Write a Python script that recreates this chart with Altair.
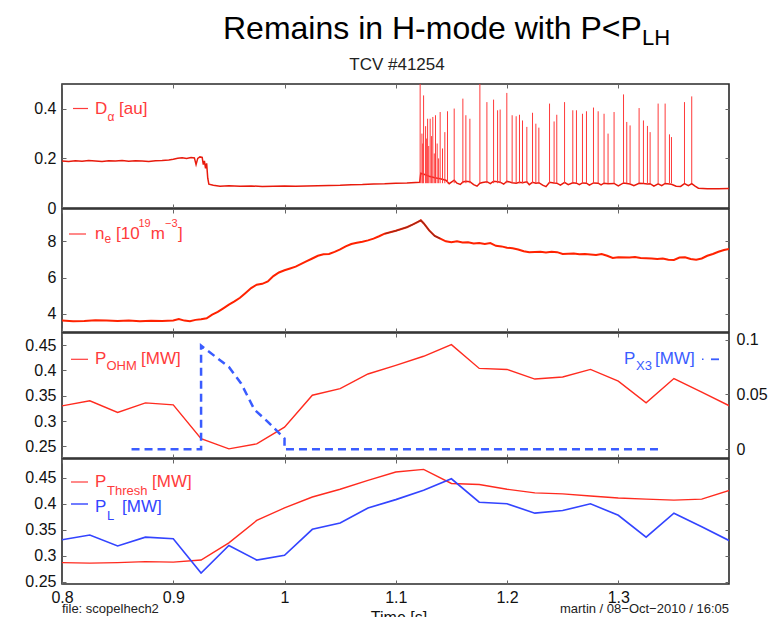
import altair as alt
import pandas as pd

FONT = "Liberation Sans"
PW = 667
H1, H2, H3, H4 = 124, 123, 125, 125
X_DOMAIN = [0.8, 1.3995]
X_TICKS = [0.8, 0.9, 1.0, 1.1, 1.2, 1.3]

RED = "#ff2b1f"
RED_TXT = "#ff3b3b"
BLUE = "#3344ff"
BLUE_DASH = "#3a5cff"

# ---------------- data ----------------
# D_alpha baseline trace [au]
da_t = [0.800, 0.806, 0.812, 0.818, 0.824, 0.830, 0.836, 0.842, 0.848, 0.854, 0.860, 0.866,
        0.872, 0.878, 0.884, 0.890, 0.896, 0.900, 0.904, 0.908, 0.912, 0.916, 0.919, 0.9205,
        0.922, 0.924, 0.926, 0.927, 0.928, 0.929, 0.930, 0.931, 0.932, 0.936, 0.942, 0.950,
        0.960, 0.970, 0.980, 0.990, 1.000, 1.010, 1.020, 1.030, 1.040, 1.050, 1.060, 1.070,
        1.080, 1.090, 1.100, 1.110, 1.1215, 1.1225, 1.126, 1.130, 1.135, 1.140, 1.145, 1.148,
        1.1525, 1.155, 1.158, 1.1603, 1.163, 1.1666, 1.170, 1.173, 1.1756, 1.178, 1.1819, 1.185,
        1.1879, 1.1915, 1.1938, 1.197, 1.1998, 1.2046, 1.2082, 1.2112, 1.2139, 1.2178, 1.220,
        1.2229, 1.2259, 1.2286, 1.232, 1.235, 1.2382, 1.2423, 1.2447, 1.248, 1.2517, 1.255,
        1.2591, 1.2624, 1.265, 1.2678, 1.2714, 1.274, 1.2777, 1.2819, 1.2845, 1.2872, 1.2908,
        1.2962, 1.300, 1.3047, 1.3076, 1.3106, 1.314, 1.3187, 1.3226, 1.3262, 1.3286, 1.332,
        1.3358, 1.339, 1.3421, 1.3460, 1.3478, 1.352, 1.356, 1.3595, 1.363, 1.3660, 1.369,
        1.372, 1.380, 1.390, 1.3995]
da_v = [0.190, 0.188, 0.191, 0.189, 0.192, 0.190, 0.188, 0.191, 0.190, 0.192, 0.189, 0.191,
        0.190, 0.188, 0.191, 0.192, 0.194, 0.197, 0.201, 0.203, 0.200, 0.204, 0.202, 0.175,
        0.200, 0.206, 0.204, 0.175, 0.190, 0.160, 0.180, 0.120, 0.096, 0.092, 0.088, 0.090,
        0.088, 0.089, 0.087, 0.088, 0.089, 0.088, 0.089, 0.090, 0.091, 0.092, 0.094, 0.095,
        0.097, 0.098, 0.100, 0.101, 0.104, 0.140, 0.135, 0.128, 0.122, 0.118, 0.112, 0.098,
        0.112, 0.100, 0.095, 0.105, 0.108, 0.106, 0.094, 0.088, 0.100, 0.103, 0.106, 0.098,
        0.108, 0.106, 0.104, 0.096, 0.108, 0.102, 0.100, 0.104, 0.102, 0.106, 0.094,
        0.104, 0.100, 0.102, 0.092, 0.086, 0.104, 0.101, 0.100, 0.092, 0.103, 0.094,
        0.102, 0.100, 0.094, 0.101, 0.100, 0.092, 0.101, 0.100, 0.093, 0.100, 0.098,
        0.099, 0.089, 0.101, 0.099, 0.097, 0.090, 0.100, 0.099, 0.097, 0.098, 0.088,
        0.097, 0.090, 0.099, 0.097, 0.096, 0.088, 0.087, 0.098, 0.090, 0.098, 0.088,
        0.080, 0.078, 0.078, 0.079]

# ELM spikes: time and peak of D_alpha
elm_t = [1.1219, 1.1235, 1.1242, 1.1250, 1.1268, 1.1275, 1.1286, 1.1296, 1.1309, 1.1322,
         1.1333, 1.1346, 1.1357, 1.1372, 1.1385, 1.1399, 1.1420, 1.1441, 1.1465, 1.1525,
         1.1603, 1.1630, 1.1666, 1.1756, 1.1819, 1.1879, 1.1915, 1.1938, 1.1998, 1.2046,
         1.2082, 1.2112, 1.2139, 1.2178, 1.2229, 1.2259, 1.2286, 1.2382, 1.2423, 1.2447,
         1.2517, 1.2591, 1.2624, 1.2678, 1.2714, 1.2777, 1.2819, 1.2872, 1.2908, 1.2962,
         1.3047, 1.3076, 1.3106, 1.3187, 1.3226, 1.3262, 1.3286, 1.3358, 1.3421, 1.3460,
         1.3478, 1.3595, 1.3660]
elm_peak = [0.56, 0.30, 0.26, 0.454, 0.33, 0.28, 0.360, 0.25, 0.360, 0.29,
            0.367, 0.22, 0.374, 0.26, 0.20, 0.387, 0.24, 0.306, 0.390, 0.401,
            0.441, 0.374, 0.360, 0.56, 0.427, 0.437, 0.394, 0.397, 0.464, 0.374,
            0.370, 0.376, 0.353, 0.327, 0.384, 0.340, 0.324, 0.421, 0.349, 0.376,
            0.427, 0.394, 0.394, 0.380, 0.390, 0.405, 0.390, 0.380, 0.300, 0.387,
            0.458, 0.347, 0.333, 0.403, 0.353, 0.331, 0.306, 0.421, 0.421, 0.297,
            0.286, 0.427, 0.450]

# electron density [1e19 m^-3]
ne_t = [0.800, 0.810, 0.820, 0.830, 0.840, 0.850, 0.860, 0.870, 0.880, 0.890, 0.900, 0.905,
        0.910, 0.915, 0.920, 0.925, 0.930, 0.935, 0.940, 0.945, 0.950, 0.955, 0.960, 0.965,
        0.970, 0.975, 0.980, 0.985, 0.990, 0.995, 1.000, 1.005, 1.010, 1.015, 1.020, 1.025,
        1.030, 1.035, 1.040, 1.045, 1.050, 1.055, 1.060, 1.065, 1.070, 1.075, 1.080, 1.085,
        1.090, 1.095, 1.100, 1.105, 1.110, 1.115, 1.120, 1.1225, 1.125, 1.130, 1.135, 1.140,
        1.145, 1.150, 1.155, 1.160, 1.165, 1.170, 1.175, 1.180, 1.185, 1.190, 1.195, 1.200,
        1.205, 1.210, 1.215, 1.220, 1.230, 1.235, 1.240, 1.245, 1.250, 1.260, 1.265, 1.270,
        1.280, 1.285, 1.290, 1.295, 1.300, 1.310, 1.315, 1.320, 1.330, 1.335, 1.340, 1.345,
        1.350, 1.355, 1.360, 1.365, 1.370, 1.375, 1.380, 1.385, 1.390, 1.395, 1.3995]
ne_v = [3.62, 3.58, 3.60, 3.64, 3.62, 3.60, 3.63, 3.58, 3.61, 3.60, 3.63, 3.70,
        3.62, 3.58, 3.66, 3.70, 3.75, 3.95, 4.10, 4.30, 4.50, 4.68, 4.88, 5.15,
        5.42, 5.60, 5.65, 5.78, 6.08, 6.28, 6.40, 6.50, 6.60, 6.75, 6.90, 7.05,
        7.20, 7.28, 7.30, 7.42, 7.55, 7.72, 7.85, 7.92, 7.98, 8.05, 8.15, 8.28,
        8.42, 8.50, 8.58, 8.68, 8.78, 8.92, 9.08, 9.16, 9.00, 8.60, 8.30, 8.15,
        8.00, 7.95, 8.00, 7.93, 7.95, 7.88, 7.90, 7.85, 7.90, 7.75, 7.72, 7.65,
        7.62, 7.55, 7.45, 7.40, 7.42, 7.38, 7.42, 7.40, 7.30, 7.32, 7.28, 7.30,
        7.25, 7.30, 7.20, 7.08, 7.12, 7.10, 7.13, 7.08, 7.05, 7.02, 7.05, 6.98,
        6.97, 7.10, 7.12, 7.02, 6.98, 7.05, 7.20, 7.30, 7.42, 7.52, 7.58]

# powers [MW] on a 25 ms grid
t_grid = [0.800, 0.825, 0.850, 0.875, 0.900, 0.925, 0.950, 0.975, 1.000, 1.025, 1.050, 1.075,
          1.100, 1.125, 1.150, 1.175, 1.200, 1.225, 1.250, 1.275, 1.300, 1.325, 1.350, 1.375,
          1.400]
p_ohm = [0.330, 0.340, 0.317, 0.336, 0.332, 0.265, 0.245, 0.255, 0.288, 0.351, 0.364, 0.393,
         0.410, 0.428, 0.451, 0.404, 0.402, 0.383, 0.387, 0.402, 0.379, 0.336, 0.384, 0.357,
         0.330]
p_l = [0.331, 0.340, 0.319, 0.336, 0.333, 0.267, 0.320, 0.292, 0.301, 0.351, 0.363, 0.392,
       0.408, 0.426, 0.448, 0.403, 0.400, 0.382, 0.387, 0.400, 0.378, 0.336, 0.382, 0.356,
       0.329]
p_thresh = [0.287, 0.286, 0.287, 0.289, 0.288, 0.292, 0.325, 0.368, 0.392, 0.413, 0.428, 0.445,
            0.461, 0.466, 0.439, 0.437, 0.428, 0.421, 0.419, 0.415, 0.411, 0.409, 0.407, 0.409,
            0.426]

# X3 ECH power [MW]
px3_t = [0.8625, 0.925, 0.925, 0.950, 0.961, 0.973, 0.985, 1.000, 1.000, 1.3375]
px3_v = [0.0, 0.0, 0.0945, 0.075, 0.060, 0.036, 0.025, 0.0097, 0.0, 0.0]

# ---------------- helpers ----------------
ONE = pd.DataFrame({"k": [0]})
xs = alt.Scale(domain=X_DOMAIN, nice=False, zero=False)


def xax(orient, labels=False):
    return alt.Axis(orient=orient, values=X_TICKS, labels=labels, format="~g", title=None,
                    domain=False, grid=False, ticks=True, tickSize=4, offset=-4,
                    tickColor="#666", tickWidth=1, labelFontSize=16, labelFont=FONT,
                    labelColor="#111", labelPadding=5, labelFlush=False, labelOverlap=False)


def yax(orient, values, labels=True, pad=6):
    return alt.Axis(orient=orient, values=values, labels=labels, format="~g", title=None,
                    domain=False, grid=False, ticks=True, tickSize=4, offset=-4,
                    tickColor="#666", tickWidth=1, labelFontSize=16, labelFont=FONT,
                    labelColor="#111", labelPadding=pad, labelFlush=False, labelOverlap=False)


def txt(s, x, y, size, color, align="left", baseline="middle"):
    return alt.Chart(ONE).mark_text(text=s, fontSize=size, color=color, font=FONT,
                                    align=align, baseline=baseline).encode(
        x=alt.value(x), y=alt.value(y))


def sample(x1, x2, y, color, width=1.5, dash=None):
    kw = dict(color=color, strokeWidth=width)
    if dash is not None:
        kw["strokeDash"] = dash
    return alt.Chart(ONE).mark_rule(**kw).encode(
        x=alt.value(x1), x2=alt.value(x2), y=alt.value(y))


# ---------------- panel 1: D_alpha ----------------
ys1 = alt.Scale(domain=[0, 0.5], nice=False, zero=False)
da_df = pd.DataFrame({"t": da_t, "v": da_v})
elm_df = pd.DataFrame({"t": elm_t, "v": elm_peak})

p1_line = alt.Chart(da_df).mark_line(color="#e81a0c", strokeWidth=1.5, clip=True).encode(
    x=alt.X("t:Q", scale=xs, axis=xax("bottom")),
    y=alt.Y("v:Q", scale=ys1, axis=yax("left", [0, 0.2, 0.4])))
p1_elm = alt.Chart(elm_df).mark_rule(color="#ff3a3a", strokeWidth=1, clip=True).encode(
    x=alt.X("t:Q", scale=xs, axis=xax("top")),
    y=alt.Y("v:Q", scale=ys1, axis=yax("right", [0, 0.2, 0.4], labels=False)),
    y2=alt.datum(0.1))

p1 = alt.layer(
    p1_line, p1_elm,
    sample(11, 26, 24.5, RED_TXT, 1.2),
    txt("D", 33, 24.5, 17, RED_TXT),
    txt("α", 45.5, 33, 12, RED_TXT),
    txt("[au]", 57, 24.5, 17, RED_TXT),
    txt("Remains in H-mode with P<P", 161, -45.5, 32, "#000", baseline="alphabetic"),
    txt("LH", 580, -39.5, 22, "#000", baseline="alphabetic"),
    txt("TCV #41254", 335, -14, 17, "#222", align="center", baseline="alphabetic"),
).resolve_axis(x="independent", y="independent").properties(width=PW, height=H1)

# ---------------- panel 2: n_e ----------------
ys2 = alt.Scale(domain=[2.99, 9.785], nice=False, zero=False)
ne_df = pd.DataFrame({"t": ne_t, "v": ne_v})

p2_line = alt.Chart(ne_df).mark_line(color="#ff2200", strokeWidth=2, clip=True).encode(
    x=alt.X("t:Q", scale=xs, axis=xax("bottom")),
    y=alt.Y("v:Q", scale=ys2, axis=yax("left", [4, 6, 8])))
p2_dark = alt.Chart(ne_df).transform_filter(
    (alt.datum.t >= 1.09) & (alt.datum.t <= 1.14)
).mark_line(color="#9a2a1a", strokeWidth=1.2, clip=True).encode(
    x=alt.X("t:Q", scale=xs, axis=xax("top")),
    y=alt.Y("v:Q", scale=ys2, axis=yax("right", [4, 6, 8], labels=False)))

p2 = alt.layer(
    p2_line, p2_dark,
    sample(7, 24, 25, RED_TXT, 1.2),
    txt("n", 33, 25, 17, RED_TXT),
    txt("e", 42.5, 30, 12, RED_TXT),
    txt("[10", 54, 25, 17, RED_TXT),
    txt("19", 76.5, 14.7, 11, RED_TXT),
    txt("m", 88.7, 25, 17, RED_TXT),
    txt("−3", 103, 14.7, 11, RED_TXT),
    txt("]", 116, 25, 17, RED_TXT),
).resolve_axis(x="independent", y="independent").properties(width=PW, height=H2)

# ---------------- panel 3: P_OHM and P_X3 ----------------
ys3 = alt.Scale(domain=[0.227, 0.474], nice=False, zero=False)
ys3r = alt.Scale(domain=[-0.008, 0.106], nice=False, zero=False)
pohm_df = pd.DataFrame({"t": t_grid, "v": p_ohm})
px3_df = pd.DataFrame({"t": px3_t, "v": px3_v, "i": list(range(len(px3_t)))})

p3_ohm = alt.Chart(pohm_df).mark_line(color=RED, strokeWidth=1.4, clip=True).encode(
    x=alt.X("t:Q", scale=xs, axis=xax("bottom")),
    y=alt.Y("v:Q", scale=ys3, axis=yax("left", [0.25, 0.3, 0.35, 0.4, 0.45])))
p3_x3 = alt.Chart(px3_df).mark_line(color=BLUE_DASH, strokeWidth=2.5, strokeDash=[8, 5],
                                    clip=True).encode(
    x=alt.X("t:Q", scale=xs, axis=xax("top")),
    y=alt.Y("v:Q", scale=ys3r, axis=yax("right", [0, 0.05, 0.1], pad=7)),
    order=alt.Order("i:Q"))

p3 = alt.layer(
    p3_ohm, p3_x3,
    sample(9, 26, 26.3, RED_TXT, 1.2),
    txt("P", 33, 26.3, 17, RED_TXT),
    txt("OHM", 44.5, 33.3, 13, RED_TXT),
    txt("[MW]", 79, 26.3, 17, RED_TXT),
    txt("P", 562, 25.5, 17, BLUE_DASH),
    txt("X3", 574, 32.5, 13, BLUE_DASH),
    txt("[MW]", 593, 25.5, 17, BLUE_DASH),
    sample(640, 641.5, 26.3, BLUE_DASH, 1.5),
    sample(649, 657, 26.3, BLUE_DASH, 1.8),
).resolve_scale(y="independent").resolve_axis(x="independent", y="independent").properties(
    width=PW, height=H3)

# ---------------- panel 4: P_Thresh and P_L ----------------
ys4 = alt.Scale(domain=[0.246, 0.486], nice=False, zero=False)
pw_df = pd.DataFrame({"t": t_grid, "thresh": p_thresh, "pl": p_l})

p4_thr = alt.Chart(pw_df).mark_line(color=RED, strokeWidth=1.4, clip=True).encode(
    x=alt.X("t:Q", scale=xs, axis=xax("bottom", labels=True)),
    y=alt.Y("thresh:Q", scale=ys4, axis=yax("left", [0.25, 0.3, 0.35, 0.4, 0.45])))
p4_pl = alt.Chart(pw_df).mark_line(color=BLUE, strokeWidth=1.6, clip=True).encode(
    x=alt.X("t:Q", scale=xs, axis=xax("top")),
    y=alt.Y("pl:Q", scale=ys4, axis=yax("right", [0.25, 0.3, 0.35, 0.4, 0.45], labels=False)))

p4 = alt.layer(
    p4_thr, p4_pl,
    sample(9, 26, 23, RED_TXT, 1.2),
    txt("P", 33, 23, 17, RED_TXT),
    txt("Thresh", 45, 32, 13, RED_TXT),
    txt("[MW]", 90, 23, 17, RED_TXT),
    sample(9, 26, 45, BLUE, 1.4),
    txt("P", 33, 48, 17, BLUE),
    txt("L", 45, 57, 13, BLUE),
    txt("[MW]", 60, 48, 17, BLUE),
    txt("file: scopelhech2", 0, 150, 13, "#222"),
    txt("martin / 08−Oct−2010 / 16:05", PW, 150, 13, "#222", align="right"),
    txt("Time [s]", 337, 164, 16, "#111", align="center", baseline="alphabetic"),
).resolve_axis(x="independent", y="independent").properties(width=PW, height=H4)

chart = alt.vconcat(p1, p2, p3, p4, spacing=1, bounds="flush").properties(
    padding={"left": 24, "top": 11, "right": 0, "bottom": 0}
).configure(background="white", font=FONT).configure_view(
    stroke="#2a2a2a", strokeWidth=1.6)

chart.save("out.html", embed_options={"renderer": "svg", "actions": False})
